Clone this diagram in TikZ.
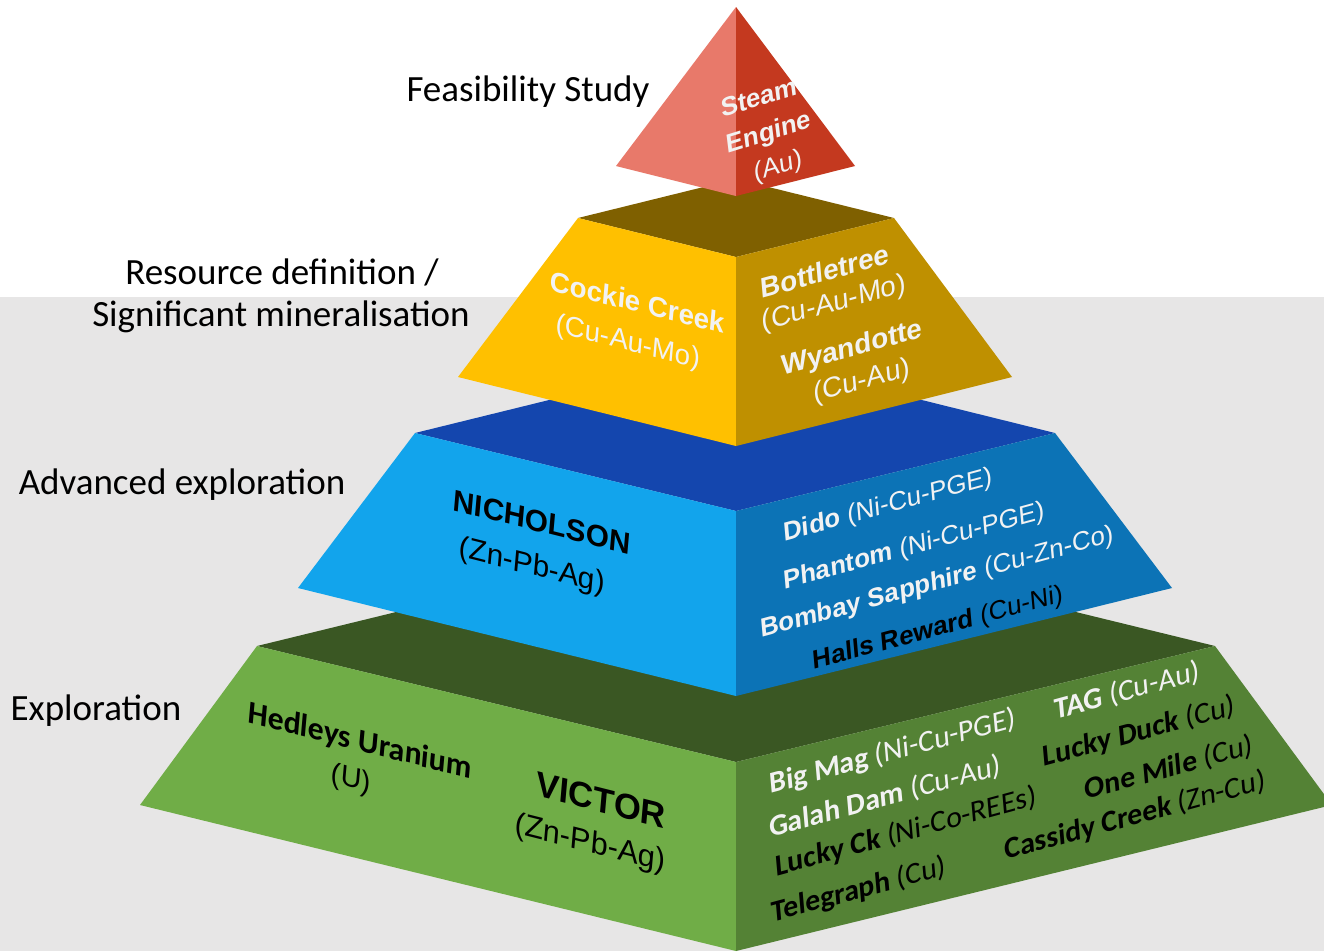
\documentclass[tikz,border=0pt]{standalone}
\usepackage{fontspec}
\setmainfont{Carlito}
\newfontfamily\arialf{Liberation Sans}
\definecolor{bgGrey}{HTML}{E7E6E6}
\definecolor{greenTop}{HTML}{3A5723}
\definecolor{greenL}{HTML}{70AD47}
\definecolor{greenR}{HTML}{548235}
\definecolor{blueTop}{HTML}{1446AE}
\definecolor{blueL}{HTML}{12A4EC}
\definecolor{blueR}{HTML}{0C73B6}
\definecolor{yelTop}{HTML}{7F6000}
\definecolor{yelL}{HTML}{FFC000}
\definecolor{yelR}{HTML}{BF9000}
\definecolor{redL}{HTML}{E8796A}
\definecolor{redR}{HTML}{C4391F}
\definecolor{wtxt}{HTML}{F2F2F2}
\begin{document}
\begin{tikzpicture}[x=1pt,y=-1pt,
  every node/.style={inner sep=0pt,anchor=center},
  lbl/.style={font=\fontsize{37}{44}\selectfont,text=black},
  rface/.style={rotate=5,yslant=0.18},
  lface/.style={rotate=-5,yslant=-0.16},
  redface/.style={rotate=7,yslant=0.18},
  ar/.style={font=\arialf\fontsize{26}{31}\selectfont},
  ary/.style={font=\arialf\fontsize{28}{33}\selectfont},
  cb/.style={font=\fontsize{30}{35}\selectfont},
  wt/.style={text=wtxt},
  bk/.style={text=black}]
\useasboundingbox (0,0) rectangle (1324,951);
\fill[white] (0,0) rectangle (1324,297);
\fill[bgGrey] (0,297) rectangle (1324,951);
% green tier
\fill[greenTop] (257,646) -- (736,529) -- (1215,646) -- (736,762) -- cycle;
\fill[greenL] (257,646) -- (736,762) -- (736,951) -- (140,805) -- cycle;
\fill[greenR] (736,762) -- (1215,646) -- (1332,805) -- (736,951) -- cycle;
% blue tier
\fill[blueTop] (415,433) -- (736,354) -- (1055,433) -- (736,511) -- cycle;
\fill[blueL] (415,433) -- (736,511) -- (736,696) -- (298,588) -- cycle;
\fill[blueR] (736,511) -- (1055,433) -- (1172,588) -- (736,696) -- cycle;
% yellow tier
\fill[yelTop] (578,218) -- (736,179) -- (894,218) -- (736,257) -- cycle;
\fill[yelL] (578,218) -- (736,257) -- (736,446) -- (458,377) -- cycle;
\fill[yelR] (736,257) -- (894,218) -- (1012,377) -- (736,446) -- cycle;
% red top
\fill[redL] (736,7) -- (736,196) -- (616,166) -- cycle;
\fill[redR] (736,7) -- (855,166) -- (736,196) -- cycle;

% stage labels
\node[lbl] (feas) at (528,92) {Feasibility Study};
\node[lbl] (res1) at (282,272) {Resource definition /};
\node[lbl] (res2) at (281,317) {Significant mineralisation};
\node[lbl] (adv) at (182,485) {Advanced exploration};
\node[lbl] (expl) at (96,711) {Exploration};

% red
\node[redface,ar,wt] (se1) at (759,97) {\bfseries Steam};
\node[redface,ar,wt] (se2) at (769,134) {\bfseries Engine};
\node[redface,ar,wt] (se3) at (778,167) {(Au)};

% yellow
\node[lface,ary,wt] (cc1) at (638,302) {\bfseries Cockie Creek};
\node[lface,ary,wt] (cc2) at (628,343) {(Cu-Au-Mo)};
\node[rface,ary,wt] (bt1) at (825,271) {\bfseries Bottletree};
\node[rface,ary,wt] (bt2) at (834,304) {(Cu-Au-Mo)};
\node[rface,ary,wt] (wy1) at (852,349) {\bfseries Wyandotte};
\node[rface,ary,wt] (wy2) at (862,382) {(Cu-Au)};

% blue
\node[lface,bk,font=\arialf\bfseries\fontsize{30}{36}\selectfont] (nich1) at (542,522) {NICHOLSON};
\node[lface,bk,font=\arialf\fontsize{30}{36}\selectfont] (nich2) at (532,567) {(Zn-Pb-Ag)};
\node[rface,ar,wt] (dido) at (888,506) {\textbf{Dido} (Ni-Cu-PGE)};
\node[rface,ar,wt] (phan) at (914,547) {\textbf{Phantom} (Ni-Cu-PGE)};
\node[rface,ar,wt] (bomb) at (937,583) {\textbf{Bombay Sapphire} (Cu-Zn-Co)};
\node[rface,ar,bk] (halls) at (938,629) {\textbf{Halls Reward} (Cu-Ni)};

% green
\node[lface,bk,font=\fontsize{32}{38}\selectfont] (hed1) at (360,742) {\bfseries Hedleys Uranium};
\node[lface,bk,font=\arialf\fontsize{29}{34}\selectfont] (hed2) at (351,780) {(U)};
\node[lface,bk,font=\arialf\bfseries\fontsize{35}{42}\selectfont] (vic1) at (601,800) {VICTOR};
\node[lface,bk,font=\arialf\fontsize{31}{36}\selectfont] (vic2) at (590,844) {(Zn-Pb-Ag)};
\node[rface,cb,wt] (bigmag) at (893,752) {\textbf{Big Mag} (Ni-Cu-PGE)};
\node[rface,cb,wt] (galah) at (885,797) {\textbf{Galah Dam} (Cu-Au)};
\node[rface,cb,bk] (luckyck) at (906,832) {\textbf{Lucky Ck} (Ni-Co-REEs)};
\node[rface,cb,bk] (teleg) at (859,890) {\textbf{Telegraph} (Cu)};
\node[rface,cb,wt] (tag) at (1127,691) {\textbf{TAG} (Cu-Au)};
\node[rface,cb,bk] (lduck) at (1139,732) {\textbf{Lucky Duck} (Cu)};
\node[rface,cb,bk] (omile) at (1169,768) {\textbf{One Mile} (Cu)};
\node[rface,cb,bk] (cassidy) at (1135,816) {\textbf{Cassidy Creek} (Zn-Cu)};
\end{tikzpicture}
\end{document}
